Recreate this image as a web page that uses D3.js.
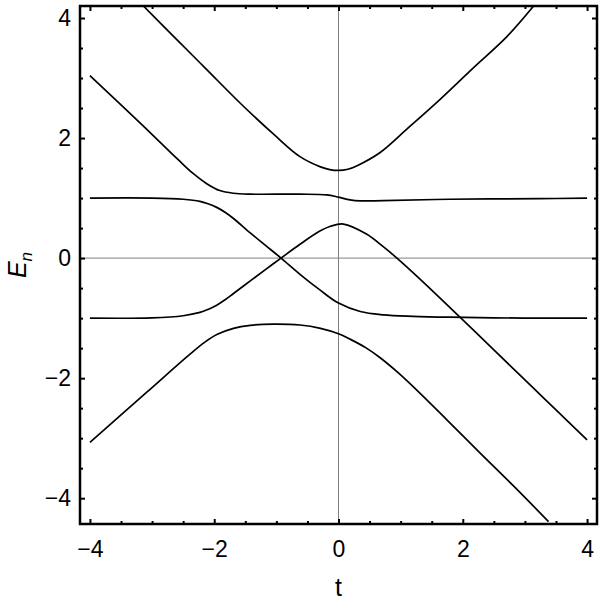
<!DOCTYPE html>
<html>
<head>
<meta charset="utf-8">
<script src="https://cdn.jsdelivr.net/npm/d3@7"></script>
<style>
  html, body { margin: 0; padding: 0; background: #fff; }
  svg { display: block; font-family: "Liberation Sans", Arial, sans-serif; }
</style>
</head>
<body>
<svg id="chart" width="600" height="605"></svg>
<script>
// ---- data ----
const xTicks = [-4, -2, 0, 2, 4];
const yTicks = [-4, -2, 0, 2, 4];
const xTickLabels = ["\u22124", "\u22122", "0", "2", "4"];
const yTickLabels = ["\u22124", "\u22122", "0", "2", "4"];

const band1T = [-3.14, -2.65, -2.12, -1.58, -1.04, -0.62, -0.29, -0.14, 0, 0.15, 0.30, 0.67, 1.10, 1.64, 2.17, 2.71, 3.14];
const band1E = [4.20, 3.69, 3.14, 2.58, 2.06, 1.69, 1.52, 1.475, 1.46, 1.48, 1.54, 1.76, 2.15, 2.65, 3.17, 3.69, 4.20];

const band2T = [-4, -3.19, -2.58, -2.34, -2.12, -1.91, -1.69, -1.42, -0.62, -0.19, 0, 0.185, 0.35, 0.72, 1.79, 3.24, 4];
const band2E = [3.04, 2.25, 1.64, 1.41, 1.24, 1.125, 1.08, 1.065, 1.065, 1.053, 1.015, 0.97, 0.953, 0.958, 0.98, 0.99, 1.0];

const band3T = [-4, -3, -2.5, -2.23, -2.1, -1.96, -1.82, -1.69, -1.42, -1.16, -0.925, -0.62, -0.30, 0, 0.35, 0.72, 1.2, 1.79, 3, 4];
const band3E = [1.0, 1.0, 0.98, 0.945, 0.905, 0.845, 0.76, 0.66, 0.42, 0.20, 0, -0.27, -0.53, -0.75, -0.89, -0.945, -0.97, -0.985, -1.0, -1.0];

const band4T = [-4, -3, -2.5, -2.23, -2.1, -1.96, -1.82, -1.69, -1.42, -1.16, -0.925, -0.62, -0.30, -0.13, 0.08, 0.45, 0.72, 0.94, 1.26, 1.79, 2.55, 3.0, 3.5, 4];
const band4E = [-1.0, -0.995, -0.96, -0.905, -0.855, -0.785, -0.69, -0.59, -0.38, -0.18, 0, 0.23, 0.45, 0.53, 0.567, 0.40, 0.19, 0, -0.30, -0.82, -1.58, -2.03, -2.53, -3.03];

const band5T = [-4, -3.08, -2.39, -2.15, -1.95, -1.69, -1.42, -1.05, -0.62, -0.29, 0, 0.185, 0.45, 0.67, 0.95, 1.21, 1.74, 2.28, 2.82, 3.38];
const band5E = [-3.07, -2.23, -1.60, -1.40, -1.27, -1.17, -1.12, -1.10, -1.115, -1.17, -1.26, -1.35, -1.50, -1.66, -1.90, -2.15, -2.69, -3.25, -3.80, -4.39];

const bands = [
  [band1T, band1E], [band2T, band2E], [band3T, band3E], [band4T, band4E], [band5T, band5E]
];

// ---- layout ----
const pL = 80, pR = 597, pT = 6, pB = 524;
const svg = d3.select("#chart");
const x = d3.scaleLinear().domain([-4.16, 4.16]).range([pL, pR]);
const y = d3.scaleLinear().domain([-4.43, 4.2]).range([pB, pT]);

svg.append("defs").append("clipPath").attr("id", "clip")
  .append("rect").attr("x", pL).attr("y", pT)
  .attr("width", pR - pL).attr("height", pB - pT);

// zero lines
svg.append("line").attr("x1", x(0)).attr("x2", x(0)).attr("y1", pT).attr("y2", pB)
  .attr("stroke", "#808080").attr("stroke-width", 1);
svg.append("line").attr("x1", pL).attr("x2", pR).attr("y1", y(0)).attr("y2", y(0))
  .attr("stroke", "#808080").attr("stroke-width", 1);

// curves
const line = d3.line().x(d => x(d[0])).y(d => y(d[1])).curve(d3.curveCatmullRom.alpha(0.5));
const g = svg.append("g").attr("clip-path", "url(#clip)");
bands.forEach(([ts, es]) => {
  g.append("path")
    .datum(ts.map((t, i) => [t, es[i]]))
    .attr("d", line)
    .attr("fill", "none")
    .attr("stroke", "#000")
    .attr("stroke-width", 1.7)
    .attr("stroke-linejoin", "round");
});

// axes (ticks inward, mirrored on all four sides)
const minorX = d3.range(-4, 4.01, 0.5).filter(v => !xTicks.includes(v));
const minorY = d3.range(-4, 4.01, 0.5).filter(v => !yTicks.includes(v));

function styleAxis(sel) {
  sel.select(".domain").remove();
  sel.selectAll(".tick line").attr("stroke", "#000").attr("stroke-width", 2);
  sel.selectAll(".tick text").attr("fill", "#000").attr("font-size", 23)
     .attr("font-family", '"Liberation Sans", Arial, sans-serif');
}

const bottomAxis = svg.append("g").attr("transform", `translate(0,${pB})`)
  .call(d3.axisBottom(x).tickValues(xTicks).tickSizeInner(-5).tickSizeOuter(0).tickPadding(17)
    .tickFormat((d, i) => xTickLabels[i]));
styleAxis(bottomAxis);
bottomAxis.selectAll(".tick text").attr("dy", "0.71em");

const bottomMinor = svg.append("g").attr("transform", `translate(0,${pB})`)
  .call(d3.axisBottom(x).tickValues(minorX).tickSizeInner(-3).tickSizeOuter(0).tickFormat(""));
styleAxis(bottomMinor);

const topAxis = svg.append("g").attr("transform", `translate(0,${pT})`)
  .call(d3.axisTop(x).tickValues(xTicks).tickSizeInner(-5).tickSizeOuter(0).tickFormat(""));
styleAxis(topAxis);
const topMinor = svg.append("g").attr("transform", `translate(0,${pT})`)
  .call(d3.axisTop(x).tickValues(minorX).tickSizeInner(-3).tickSizeOuter(0).tickFormat(""));
styleAxis(topMinor);

const leftAxis = svg.append("g").attr("transform", `translate(${pL},0)`)
  .call(d3.axisLeft(y).tickValues(yTicks).tickSizeInner(-5).tickSizeOuter(0).tickPadding(9)
    .tickFormat((d, i) => yTickLabels[i]));
styleAxis(leftAxis);
const leftMinor = svg.append("g").attr("transform", `translate(${pL},0)`)
  .call(d3.axisLeft(y).tickValues(minorY).tickSizeInner(-3).tickSizeOuter(0).tickFormat(""));
styleAxis(leftMinor);

const rightAxis = svg.append("g").attr("transform", `translate(${pR},0)`)
  .call(d3.axisRight(y).tickValues(yTicks).tickSizeInner(-5).tickSizeOuter(0).tickFormat(""));
styleAxis(rightAxis);
const rightMinor = svg.append("g").attr("transform", `translate(${pR},0)`)
  .call(d3.axisRight(y).tickValues(minorY).tickSizeInner(-3).tickSizeOuter(0).tickFormat(""));
styleAxis(rightMinor);

// frame
svg.append("rect").attr("x", pL).attr("y", pT)
  .attr("width", pR - pL).attr("height", pB - pT)
  .attr("fill", "none").attr("stroke", "#000").attr("stroke-width", 2.5);

// axis labels
svg.append("text").attr("x", (pL + pR) / 2).attr("y", 596)
  .attr("text-anchor", "middle").attr("font-size", 25).attr("fill", "#000").text("t");

const yl = svg.append("text")
  .attr("transform", `translate(26,${(pT + pB) / 2}) rotate(-90)`)
  .attr("text-anchor", "middle").attr("font-size", 25).attr("fill", "#000");
yl.append("tspan").attr("font-style", "italic").text("E");
yl.append("tspan").attr("font-style", "italic").attr("font-size", 17).attr("dy", 6).text("n");
</script>
</body>
</html>
